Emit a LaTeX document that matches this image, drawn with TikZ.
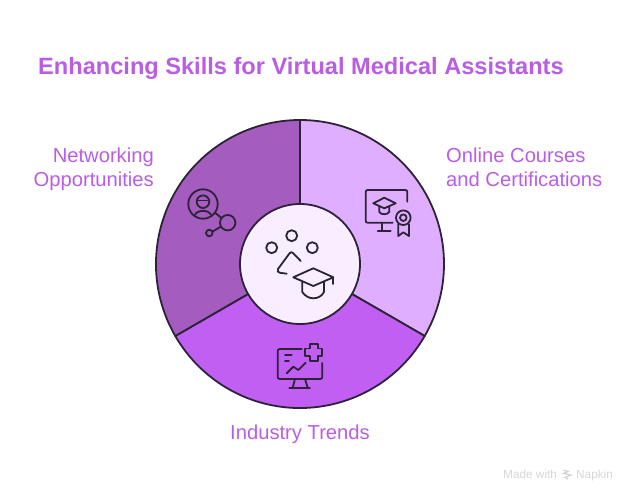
\documentclass[tikz,border=0pt]{standalone}
\usepackage{fontspec}
\setmainfont{Liberation Sans}
\definecolor{inkline}{HTML}{2D2338}
\definecolor{violettext}{HTML}{B95DE4}
\definecolor{sliceright}{HTML}{E0AEFF}
\definecolor{slicebottom}{HTML}{C05FF2}
\definecolor{sliceleft}{HTML}{A45DBE}
\definecolor{hubfill}{HTML}{F9EEFF}
\definecolor{markgray}{HTML}{D6D6D6}
\tikzset{
  slice/.style={draw=inkline, line width=1.8pt},
  icon/.style={draw=inkline, line width=1.8pt, line cap=round, line join=round},
  label/.style={text=violettext, font=\fontsize{20.2}{24}\selectfont, inner sep=0pt},
  markfont/.style={text=markgray, font=\fontsize{11.8}{14}\selectfont, inner sep=0pt, anchor=base west},
}
\begin{document}
\begin{tikzpicture}[x=1pt, y=-1pt]
  \useasboundingbox (0,0) rectangle (637,502);
  \coordinate (hub) at (300,264);
  % three slices
  \foreach \from/\to/\shade in {-90/30/sliceright, 30/150/slicebottom, 150/270/sliceleft}
    \filldraw[slice, fill=\shade] (hub) -- ++(\from:144) arc[start angle=\from, end angle=\to, radius=144] -- cycle;
  \filldraw[slice, fill=hubfill] (hub) circle[radius=60];

  \node[text=violettext, font=\fontsize{23.6}{30}\bfseries\selectfont, inner sep=0pt, anchor=base west] (title) at (38,74.5) {Enhancing Skills for Virtual Medical Assistants};
  \node[label, anchor=base east] (net1) at (154,163) {Networking};
  \node[label, anchor=base east] (net2) at (154,187) {Opportunities};
  \node[label, anchor=base west] (online1) at (446,163) {Online Courses};
  \node[label, anchor=base west] (online2) at (446,187) {and Certifications};
  \node[label, anchor=base] (trends) at (300,439) {Industry Trends};

  % hub icon
  \draw[icon] (271.7,247.7) circle[radius=5.5];
  \draw[icon] (291.7,235.7) circle[radius=5.5];
  \draw[icon] (312.3,247.7) circle[radius=5.5];
  \draw[icon] (300.7,261) -- (293,253) .. controls (291.7,251.8) and (290.6,252) .. (289.6,253.2) -- (278,269) .. controls (277,271) and (278,272.6) .. (280,272.8) -- (286.7,273.7);
  \draw[icon] (293.3,277.3) -- (313.3,268.3) -- (333.3,277.3) -- (313.3,286) -- cycle;
  \draw[icon] (333.3,277.3) -- (333.3,284);
  \draw[icon] (302.3,281.7) -- (302.3,292) .. controls (305,296) and (309,298.3) .. (313.3,298.3) .. controls (318,298.3) and (322,296) .. (324,292) -- (324,281.7);

  % online courses icon
  \draw[icon] (407.3,201.7) -- (407.3,192) .. controls (407.3,190.6) and (406.6,190) .. (405.3,190) -- (367.7,190) .. controls (366.4,190) and (365.7,190.6) .. (365.7,192) -- (365.7,220.7) .. controls (365.7,222) and (366.4,222.7) .. (367.7,222.7) -- (392.7,222.7);
  \draw[icon] (382.3,222.7) -- (382.3,231);
  \draw[icon] (377.7,231) -- (390.7,231);
  \draw[icon] (373.3,203.3) -- (384.3,197.7) -- (395.7,203.3) -- (384.3,208.3) -- cycle;
  \draw[icon] (379.3,206.7) -- (379.3,212) .. controls (381,215) and (387,215) .. (389.3,212) -- (389.3,206.7);
  \draw[icon] (403.3,217.7) circle[radius=7.3];
  \draw[icon] (403.3,217.7) circle[radius=3.3];
  \draw[icon] (398.3,224.3) -- (398.3,236) -- (403.3,232.3) -- (409,236) -- (409,224.3);

  % networking icon
  \draw[icon] (203,204) circle[radius=14.7];
  \draw[icon] (203,201.7) circle[radius=6.3];
  \draw[icon] (197,200.5) -- (209,200.5);
  \draw[icon] (195,215) .. controls (197,209.5) and (209,209.5) .. (211,215);
  \draw[icon] (215,212.7) -- (221.5,218);
  \draw[icon] (227.7,222.7) circle[radius=7.7];
  \draw[icon] (220.7,226.7) -- (212.3,231.7);
  \draw[icon] (209.3,233) circle[radius=3.3];

  % trends icon
  \draw[icon] (301.7,349) -- (279.7,349) .. controls (278.4,349) and (277.7,349.7) .. (277.7,351) -- (277.7,377) .. controls (277.7,378.3) and (278.4,379) .. (279.7,379) -- (320.3,379) .. controls (321.6,379) and (322.3,378.3) .. (322.3,377) -- (322.3,363);
  \draw[icon] (295,379) -- (292.7,387.7);
  \draw[icon] (305,379) -- (307.7,387.7);
  \draw[icon] (289.3,387.7) -- (310,387.7);
  \draw[icon] (310,344) -- (317.7,344) -- (317.7,348.5) -- (322.3,348.5) -- (322.3,356) -- (317.7,356) -- (317.7,361) -- (310,361) -- (310,356) -- (305,356) -- (305,348.5) -- (310,348.5) -- cycle;
  \draw[icon] (285,355) -- (291.7,355);
  \draw[icon] (285,360.7) -- (289,360.7);
  \draw[icon] (286.7,373.3) -- (293.3,366.7) -- (298.3,370) -- (305.7,362.7);

  % maker mark
  \node[markfont] (madewith) at (503,478.5) {Made with};
  \node[markfont] (napkin) at (576,478.5) {Napkin};
  \draw[markgray, line width=1.3pt] (563.5,470) -- (568,471.5) -- (563.5,473.5) -- (571,475) -- (565,477.5) -- (568,479);
\end{tikzpicture}
\end{document}
